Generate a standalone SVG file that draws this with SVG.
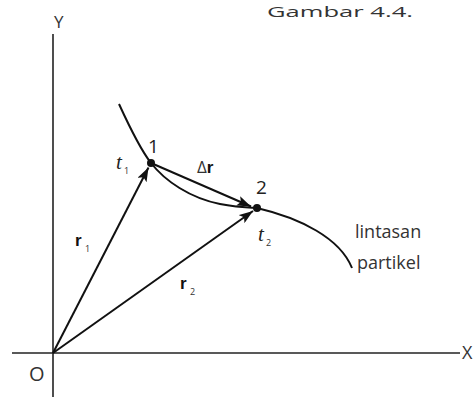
<svg xmlns="http://www.w3.org/2000/svg" width="475" height="397" viewBox="0 0 475 397">
  <defs>
    <marker id="ah" viewBox="0 0 14 10" refX="14" refY="5" markerWidth="14" markerHeight="10" markerUnits="userSpaceOnUse" orient="auto">
      <path d="M0,0 L14,5 L0,10 L3,5 Z" fill="#111"/>
    </marker>
    <style>
      .ax { stroke:#222; stroke-width:1.6; fill:none; }
      .ln { stroke:#111; stroke-width:2; fill:none; }
      .lbl { font-family:"Open Sans","DejaVu Sans",sans-serif; fill:#333; }
      .num { font-family:"Open Sans","DejaVu Sans",sans-serif; fill:#222; font-size:19px; }
      .vec { font-family:"Liberation Sans","DejaVu Sans",sans-serif; font-weight:bold; fill:#111; font-size:17px; }
      .sub { font-family:"Open Sans","DejaVu Sans",sans-serif; fill:#333; font-size:9px; }
      .t { font-family:"Liberation Serif",serif; font-style:italic; fill:#222; font-size:21px; }
    </style>
  </defs>
  <rect width="475" height="397" fill="#fff"/>

  <text x="267" y="17" class="lbl" font-size="15" textLength="146" lengthAdjust="spacingAndGlyphs" fill="#444">Gambar 4.4.</text>

  <g id="axes">
    <line class="ax" x1="53" y1="34" x2="53" y2="397"/>
    <line class="ax" x1="12" y1="353" x2="460" y2="353"/>
    <text x="54" y="28" class="lbl" font-size="17">Y</text>
    <text x="462" y="359" class="lbl" font-size="18">X</text>
    <text x="29" y="381" class="lbl" font-size="20">O</text>
  </g>

  <g id="connectors">
    <path id="trajectory" class="ln" d="M119,104 C130,128 140,149 151,163 C165,181 190,198 220,204 C235,207 247,207.5 257,208 C300,218 340,238 352,268"/>
    <line id="r1" class="ln" x1="53" y1="353" x2="148.5" y2="167.5" marker-end="url(#ah)"/>
    <line id="r2" class="ln" x1="53" y1="353" x2="253" y2="211" marker-end="url(#ah)"/>
    <line id="dr" class="ln" x1="151" y1="163" x2="251" y2="206.5" marker-end="url(#ah)"/>
  </g>

  <g id="point1">
    <circle cx="151" cy="163" r="4" fill="#111"/>
    <text x="148" y="153" class="num">1</text>
    <text x="116" y="169" class="t">t</text>
    <text x="124" y="174" class="sub">1</text>
  </g>

  <g id="point2">
    <circle cx="257" cy="208" r="4" fill="#111"/>
    <text x="256" y="194" class="num">2</text>
    <text x="258" y="241" class="t">t</text>
    <text x="266" y="246" class="sub">2</text>
  </g>

  <g id="labels">
    <text x="197" y="173" class="lbl" font-size="17">Δ<tspan class="vec">r</tspan></text>
    <text x="75" y="246" class="vec">r</text>
    <text x="85" y="252" class="sub">1</text>
    <text x="180" y="289" class="vec">r</text>
    <text x="190" y="295" class="sub">2</text>
    <text x="355" y="238" class="lbl" font-size="18">lintasan</text>
    <text x="357" y="269" class="lbl" font-size="18">partikel</text>
  </g>
</svg>
